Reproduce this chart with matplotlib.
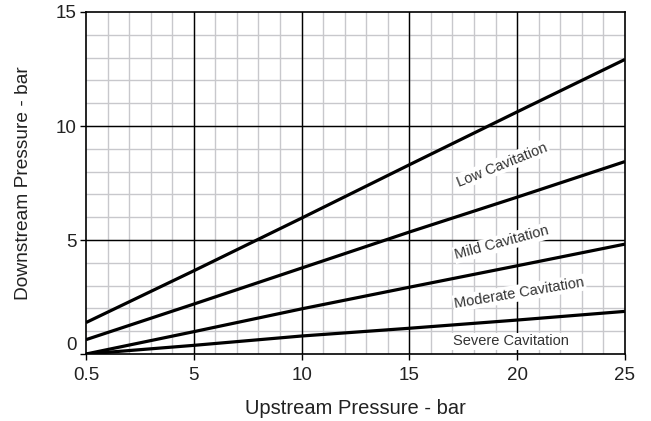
import numpy as np
import matplotlib
matplotlib.use("Agg")
import matplotlib.pyplot as plt

plt.rcParams['font.family'] = ['Liberation Sans', 'DejaVu Sans']

# Upstream pressure (bar) and downstream pressure limits (bar)
upstream = [0.5, 5, 10, 15, 20, 25]
low_cav = [1.38, 3.65, 5.96, 8.30, 10.62, 12.92]
mild_cav = [0.63, 2.19, 3.77, 5.35, 6.88, 8.44]
moderate_cav = [0.0, 0.98, 1.98, 2.93, 3.87, 4.82]
severe_cav = [0.0, 0.38, 0.79, 1.13, 1.49, 1.87]

x_ticks = [0.5, 5, 10, 15, 20, 25]
x_tick_labels = ['0.5', '5', '10', '15', '20', '25']
y_ticks = [0, 5, 10, 15]

labels = ['Low Cavitation', 'Mild Cavitation', 'Moderate Cavitation', 'Severe Cavitation']


# first interval (0.5-5) is drawn as wide as the others
def fwd(x):
    x = np.asarray(x, dtype=float)
    return np.where(x < 5, (x - 0.5) / 4.5 * 5, x)


def inv(y):
    y = np.asarray(y, dtype=float)
    return np.where(y < 5, y * 4.5 / 5 + 0.5, y)


fig = plt.figure(figsize=(6.51, 4.21), dpi=100)
ax = fig.add_axes([0.1321, 0.1591, 0.8279, 0.8124])
ax.set_xscale('function', functions=(fwd, inv))
ax.set_xlim(0.5, 25)
ax.set_ylim(0, 15)

# grid: light minor every 1 bar, black major every 5
for v in inv(np.arange(1, 25)):
    ax.axvline(v, color='#c8c8cc', lw=1.0, zorder=0)
for v in range(1, 15):
    ax.axhline(v, color='#c8c8cc', lw=1.0, zorder=0)
for v in [5, 10, 15, 20]:
    ax.axvline(v, color='black', lw=1.0, zorder=1)
for v in [5, 10]:
    ax.axhline(v, color='black', lw=1.0, zorder=1)

for series in [low_cav, mild_cav, moderate_cav, severe_cav]:
    ax.plot(upstream, series, color='black', lw=2.3, solid_capstyle='butt', zorder=3)

label_pos = [(19.3, 8.3, 22), (19.3, 4.87, 15), (20.1, 2.68, 9.5), (19.7, 0.55, 0)]
for text, (lx, ly, rot) in zip(labels, label_pos):
    ax.text(lx, ly, text, rotation=rot, rotation_mode='anchor', ha='center', va='center',
            fontsize=10.5, color='#333333', zorder=4,
            bbox=dict(facecolor='white', edgecolor='none', pad=1.0))

ax.set_xticks(x_ticks)
ax.set_xticklabels(x_tick_labels)
ax.set_yticks(y_ticks)
ax.minorticks_off()
ax.tick_params(axis='both', labelsize=13.5, colors='black', labelcolor='#222222',
               length=4, width=1)
ax.tick_params(axis='x', pad=5)
ax.tick_params(axis='y', pad=3)
ax.get_yticklabels()[0].set_va('bottom')
for s in ax.spines.values():
    s.set_color('black')
    s.set_linewidth(1.2)

ax.set_xlabel('Upstream Pressure - bar', fontsize=14.5, color='#222222', labelpad=11)
ax.set_ylabel('Downstream Pressure - bar', fontsize=13.8, color='#222222', labelpad=17)

fig.savefig('out.png', dpi=100)
